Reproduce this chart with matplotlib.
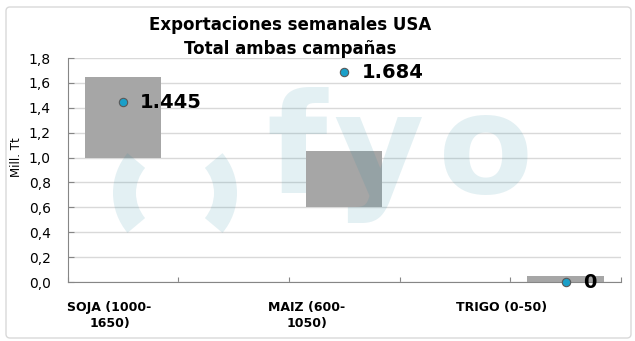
import matplotlib.pyplot as plt
from matplotlib.patches import Wedge, FancyBboxPatch

# rangos esperados (Mill. Tt) y dato de la semana
categorias = ["SOJA (1000-\n1650)", "MAIZ (600-\n1050)", "TRIGO (0-50)"]
rango_min = [1.0, 0.6, 0.0]
rango_max = [1.65, 1.05, 0.05]
exportado = [1.445, 1.684, 0.0]
etiquetas = ["1.445", "1.684", "0"]

pos = [0.5, 2.5, 4.5]          # las categorias caen en las casillas 1, 3 y 5
pos_texto = [0.38, 2.16, 3.92]  # donde se ubican los nombres debajo del eje
yticks = [0.0, 0.2, 0.4, 0.6, 0.8, 1.0, 1.2, 1.4, 1.6, 1.8]

plt.rcParams['font.family'] = ['DejaVu Sans']

fig = plt.figure(figsize=(6.35, 3.41), dpi=100)
ax = fig.add_axes([67.5 / 635, 1 - 282 / 341, (621 - 67.5) / 635, 224 / 341])

# barras flotantes con el rango
alturas = [hi - lo for lo, hi in zip(rango_min, rango_max)]
ax.bar(pos, alturas, bottom=rango_min, width=0.69, color="#a6a6a6", zorder=2)

# punto con lo exportado
ax.plot(pos, exportado, "o", ms=6, color="#1a9fc8", mec="#595959", mew=0.8,
        linestyle="none", zorder=4, clip_on=False)
for x, y, t in zip(pos, exportado, etiquetas):
    ax.annotate(t, (x, y), xytext=(12.5, 0), textcoords="offset points",
                ha="left", va="center", fontsize=14, fontweight="bold",
                zorder=5, annotation_clip=False)

ax.set_xlim(0, 5)
ax.set_ylim(0, 1.8)
ax.set_yticks(yticks)
ax.set_yticklabels([f"{v:.1f}".replace(".", ",") for v in yticks])
ax.set_xticks(range(6))
ax.set_xticklabels([])
ax.grid(axis="y", color="#d9d9d9", lw=1, zorder=0)
ax.set_axisbelow(True)

for s in ["top", "right"]:
    ax.spines[s].set_visible(False)
for s in ["left", "bottom"]:
    ax.spines[s].set_color("#868686")
ax.tick_params(axis="y", direction="in", length=4.5, color="#868686",
               labelsize=10, pad=12)
ax.tick_params(axis="x", direction="in", length=3.5, color="#868686")

for x, t in zip(pos_texto, categorias):
    ax.annotate(t, (x, 0), xycoords=("data", "axes fraction"),
                xytext=(0, -14), textcoords="offset points",
                ha="center", va="top", fontsize=9, fontweight="bold",
                linespacing=1.3, annotation_clip=False)

fig.text(17 / 635, 1 - 157 / 341, "Mill. Tt", rotation=90, ha="center",
         va="center", fontsize=8.5)
fig.text(290 / 635, 1 - 16 / 341,
         "Exportaciones semanales USA\nTotal ambas campañas",
         ha="center", va="top", fontsize=12, fontweight="bold",
         linespacing=1.4)

# capa en pixeles para el logo de fondo y el marco
capa = fig.add_axes([0, 0, 1, 1], zorder=3)
capa.set_xlim(0, 635)
capa.set_ylim(341, 0)
capa.axis("off")
capa.patch.set_alpha(0)

logo = dict(color=(30 / 255, 135 / 255, 160 / 255), alpha=0.12)
capa.add_patch(Wedge((175, 193), 62, 140, 220, width=23, lw=0, **logo))
capa.add_patch(Wedge((175, 193), 62, -40, 40, width=23, lw=0, **logo))
for letra, xc in zip("fyo", [297, 379, 486]):
    capa.text(xc, 193, letra, ha="center", va="baseline", fontsize=100,
              fontweight="bold", **logo)

capa.add_patch(FancyBboxPatch((6, 7), 625, 331,
                              boxstyle="round,pad=0,rounding_size=4",
                              fill=False, ec="#d9d9d9", lw=1))

fig.savefig("out.png", dpi=100)
